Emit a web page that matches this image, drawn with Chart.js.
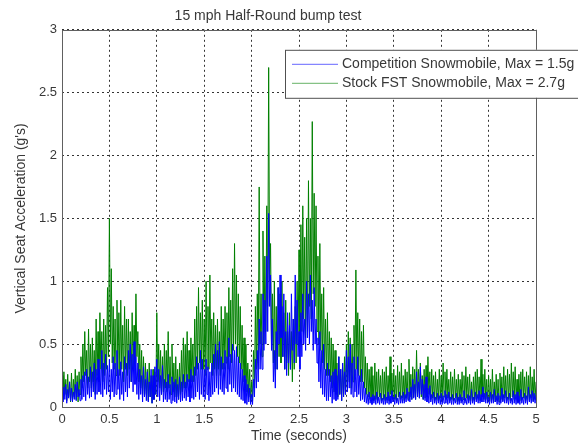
<!DOCTYPE html>
<html>
<head>
<meta charset="utf-8">
<script src="https://cdn.jsdelivr.net/npm/chart.js@4/dist/chart.umd.min.js"></script>
<style>
html,body{margin:0;padding:0;background:#fff;}
#wrap{width:578px;height:448px;position:relative;}
</style>
</head>
<body>
<div id="wrap"><canvas id="c" width="578" height="448"></canvas></div>
<script>
const chartTitle = "15 mph Half-Round bump test";
const xTitle = "Time (seconds)";
const yTitle = "Vertical Seat Acceleration (g's)";
const seriesNames = ["Competition Snowmobile, Max = 1.5g", "Stock FST Snowmobile, Max = 2.7g"];
const xTicks = [0, 0.5, 1, 1.5, 2, 2.5, 3, 3.5, 4, 4.5, 5];
const yTicks = [0, 0.5, 1, 1.5, 2, 2.5, 3];
const sampleStep = 0.01; // seconds between samples

const competition = [
0.12,0.04,0.16,0.06,0.18,0.03,0.14,0.07,0.2,0.05,
0.15,0.04,0.12,0.06,0.18,0.05,0.2,0.08,0.14,0.05,
0.22,0.06,0.25,0.08,0.28,0.05,0.3,0.1,0.24,0.07,
0.32,0.08,0.28,0.12,0.35,0.06,0.3,0.1,0.38,0.12,
0.3,0.1,0.45,0.08,0.35,0.14,0.42,0.1,0.33,0.12,
0.38,0.06,0.3,0.12,0.4,0.08,0.35,0.1,0.45,0.14,
0.3,0.06,0.36,0.1,0.28,0.05,0.4,0.12,0.35,0.08,
0.45,0.15,0.5,0.2,0.42,0.12,0.52,0.18,0.4,0.1,
0.35,0.06,0.3,0.1,0.25,0.04,0.32,0.08,0.22,0.05,
0.28,0.04,0.2,0.08,0.3,0.03,0.25,0.06,0.32,0.1,
0.38,0.08,0.3,0.05,0.25,0.1,0.33,0.04,0.22,0.06,
0.2,0.04,0.26,0.06,0.18,0.03,0.24,0.05,0.2,0.04,
0.22,0.03,0.18,0.06,0.24,0.04,0.2,0.05,0.26,0.07,
0.2,0.05,0.26,0.08,0.22,0.04,0.3,0.07,0.25,0.06,
0.32,0.08,0.4,0.12,0.35,0.06,0.45,0.1,0.38,0.08,
0.3,0.06,0.38,0.1,0.32,0.05,0.28,0.08,0.35,0.1,
0.42,0.12,0.5,0.15,0.45,0.1,0.52,0.14,0.4,0.12,
0.35,0.1,0.45,0.15,0.4,0.12,0.55,0.18,0.42,0.12,
0.5,0.15,0.45,0.12,0.48,0.1,0.4,0.08,0.35,0.06,
0.3,0.05,0.25,0.03,0.22,0.02,0.18,0.04,0.15,0.02,
0.1,0.02,0.22,0.08,0.38,0.15,0.45,0.2,0.7,0.3,
0.6,0.3,0.9,0.45,0.85,0.5,1.2,0.6,1.54,0.8,
1.05,0.45,0.7,0.2,0.45,0.15,0.6,0.3,0.95,0.5,
1.05,0.55,0.8,0.4,0.9,0.3,0.6,0.25,0.75,0.35,
0.65,0.3,0.9,0.45,0.7,0.35,1.05,0.5,0.85,0.4,
0.6,0.3,0.75,0.4,0.9,0.5,0.7,0.45,1.0,0.55,
0.9,0.5,1.05,0.6,0.85,0.45,0.95,0.5,0.7,0.35,
0.55,0.2,0.6,0.15,0.45,0.1,0.5,0.08,0.3,0.05,
0.35,0.05,0.3,0.08,0.25,0.03,0.28,0.06,0.3,0.05,
0.25,0.06,0.4,0.1,0.3,0.05,0.35,0.08,0.28,0.1,
0.45,0.12,0.4,0.15,0.5,0.1,0.35,0.08,0.4,0.12,
0.3,0.08,0.4,0.1,0.25,0.05,0.3,0.06,0.2,0.04,
0.15,0.03,0.1,0.02,0.12,0.03,0.08,0.02,0.1,0.03,
0.09,0.02,0.12,0.03,0.08,0.02,0.11,0.03,0.07,0.02,
0.1,0.02,0.08,0.03,0.12,0.02,0.09,0.03,0.13,0.04,
0.08,0.02,0.1,0.03,0.07,0.02,0.12,0.03,0.09,0.03,
0.12,0.03,0.1,0.04,0.15,0.05,0.12,0.04,0.16,0.06,
0.22,0.07,0.18,0.06,0.28,0.08,0.2,0.07,0.32,0.1,
0.22,0.06,0.18,0.05,0.24,0.04,0.15,0.03,0.17,0.04,
0.1,0.02,0.12,0.03,0.08,0.02,0.11,0.03,0.09,0.02,
0.11,0.02,0.09,0.03,0.13,0.03,0.1,0.02,0.12,0.03,
0.08,0.02,0.1,0.02,0.07,0.03,0.11,0.02,0.08,0.02,
0.1,0.03,0.08,0.02,0.13,0.03,0.07,0.02,0.1,0.03,
0.09,0.02,0.14,0.03,0.08,0.02,0.12,0.04,0.1,0.03,
0.13,0.03,0.1,0.04,0.16,0.04,0.11,0.03,0.12,0.03,
0.08,0.02,0.12,0.03,0.1,0.03,0.14,0.04,0.09,0.02,
0.11,0.02,0.09,0.03,0.15,0.04,0.1,0.03,0.13,0.03,
0.08,0.02,0.11,0.03,0.07,0.02,0.13,0.03,0.1,0.02,
0.12,0.03,0.09,0.02,0.14,0.03,0.08,0.02,0.11,0.03,
0.09,0.02,0.16,0.04,0.1,0.03,0.13,0.04,0.11,0.03,
0.1
];

const stockFST = [
0.25,0.06,0.28,0.1,0.22,0.05,0.26,0.08,0.2,0.04,
0.27,0.05,0.22,0.08,0.3,0.06,0.25,0.04,0.28,0.1,
0.4,0.15,0.5,0.2,0.6,0.25,0.45,0.15,0.62,0.2,
0.5,0.15,0.55,0.2,0.45,0.1,0.7,0.25,0.6,0.2,
0.75,0.3,0.6,0.2,0.7,0.25,0.65,0.3,0.95,0.4,
1.5,0.5,1.1,0.35,0.8,0.3,0.7,0.25,0.85,0.3,
0.75,0.25,0.85,0.3,0.65,0.2,0.8,0.3,0.7,0.25,
0.7,0.3,0.6,0.2,0.75,0.3,0.65,0.35,0.9,0.4,
0.6,0.2,0.5,0.15,0.45,0.1,0.4,0.08,0.35,0.1,
0.3,0.05,0.35,0.08,0.25,0.03,0.3,0.06,0.28,0.1,
0.75,0.2,0.5,0.15,0.45,0.1,0.4,0.12,0.5,0.15,
0.45,0.12,0.6,0.15,0.4,0.1,0.5,0.12,0.35,0.08,
0.4,0.08,0.3,0.06,0.35,0.1,0.45,0.12,0.55,0.15,
0.5,0.15,0.6,0.2,0.45,0.15,0.55,0.2,0.5,0.2,
0.7,0.25,0.8,0.3,0.95,0.35,0.75,0.3,0.85,0.3,
0.7,0.25,1.0,0.3,0.8,0.3,1.05,0.35,0.7,0.25,
0.75,0.3,0.65,0.25,0.7,0.3,0.6,0.25,0.8,0.3,
0.7,0.3,0.8,0.35,0.75,0.3,0.95,0.4,0.85,0.35,
1.1,0.45,1.3,0.5,1.05,0.4,0.9,0.35,0.8,0.3,
0.65,0.2,0.55,0.15,0.5,0.12,0.35,0.08,0.3,0.05,
0.2,0.05,0.45,0.15,0.8,0.3,0.9,0.35,1.75,0.5,
0.9,0.4,1.4,0.5,1.2,0.6,1.6,0.8,2.7,1.0,
1.3,0.5,0.9,0.35,1.0,0.3,0.8,0.3,0.95,0.4,
0.9,0.35,1.0,0.4,0.75,0.3,0.85,0.35,0.6,0.25,
0.75,0.3,0.6,0.2,0.7,0.3,0.8,0.35,1.0,0.5,
1.25,0.5,1.45,0.6,1.6,0.7,1.35,0.55,1.5,0.6,
1.8,0.8,1.5,0.7,2.27,0.9,1.7,0.8,1.6,0.6,
1.2,0.5,1.3,0.45,0.9,0.35,0.95,0.3,0.7,0.25,
0.75,0.25,0.6,0.2,0.55,0.15,0.5,0.12,0.45,0.1,
0.35,0.08,0.4,0.1,0.3,0.05,0.35,0.08,0.4,0.1,
0.5,0.15,0.6,0.2,0.55,0.15,0.5,0.2,0.65,0.25,
1.09,0.3,0.75,0.25,0.7,0.2,0.6,0.2,0.65,0.15,
0.4,0.1,0.35,0.08,0.3,0.06,0.32,0.08,0.25,0.05,
0.35,0.06,0.28,0.05,0.3,0.08,0.25,0.05,0.3,0.06,
0.28,0.05,0.32,0.07,0.25,0.05,0.4,0.1,0.27,0.06,
0.3,0.06,0.25,0.05,0.33,0.08,0.28,0.06,0.35,0.07,
0.25,0.05,0.3,0.07,0.28,0.06,0.38,0.08,0.26,0.06,
0.32,0.08,0.3,0.06,0.45,0.1,0.3,0.07,0.35,0.08,
0.25,0.06,0.3,0.07,0.33,0.08,0.4,0.1,0.28,0.06,
0.3,0.07,0.25,0.05,0.28,0.06,0.22,0.05,0.3,0.07,
0.25,0.05,0.35,0.08,0.28,0.06,0.3,0.07,0.22,0.05,
0.28,0.06,0.24,0.05,0.3,0.07,0.22,0.04,0.26,0.05,
0.22,0.05,0.28,0.06,0.25,0.05,0.32,0.07,0.24,0.05,
0.26,0.05,0.2,0.04,0.24,0.05,0.28,0.06,0.3,0.07,
0.24,0.05,0.38,0.08,0.26,0.06,0.3,0.06,0.22,0.04,
0.25,0.05,0.22,0.04,0.3,0.06,0.2,0.04,0.26,0.05,
0.22,0.04,0.27,0.06,0.24,0.05,0.32,0.07,0.25,0.05,
0.3,0.06,0.26,0.05,0.35,0.08,0.28,0.06,0.32,0.07,
0.22,0.04,0.26,0.05,0.28,0.06,0.3,0.07,0.24,0.05,
0.28,0.06,0.25,0.05,0.32,0.07,0.24,0.05,0.3,0.06,
0.2
];

const seriesColors = ["#0000ff", "#008000"];
const FONT = "'Liberation Sans', Arial, sans-serif";
const TEXT = "#383838";

function toPoints(arr){ return arr.map((v,i)=>({x: +(i*sampleStep).toFixed(2), y: v})); }

const boxPlugin = {
  id: 'boxAndLegend',
  afterDatasetsDraw(chart){
    const {ctx, chartArea:a} = chart;
    ctx.save();
    ctx.strokeStyle = '#606060';
    ctx.lineWidth = 1;
    ctx.setLineDash([]);
    ctx.strokeRect(Math.round(a.left)+0.5, Math.round(a.top)+0.5, Math.round(a.right-a.left), Math.round(a.bottom-a.top));
    // legend box
    const lx = a.left + 223, ly = a.top + 20, lw = 300, lh = 48;
    ctx.fillStyle = '#ffffff';
    ctx.fillRect(lx, ly, lw, lh);
    ctx.strokeStyle = '#505050';
    ctx.strokeRect(lx+0.5, ly+0.5, lw, lh);
    ctx.font = "14px " + FONT;
    ctx.textBaseline = 'middle';
    ctx.textAlign = 'left';
    const rows = [ly + 14, ly + 33];
    seriesNames.forEach((name, i)=>{
      ctx.strokeStyle = seriesColors[i];
      ctx.globalAlpha = 0.6;
      ctx.beginPath();
      ctx.moveTo(lx + 7, rows[i]+0.5);
      ctx.lineTo(lx + 53, rows[i]+0.5);
      ctx.stroke();
      ctx.globalAlpha = 1;
      ctx.fillStyle = TEXT;
      ctx.fillText(name, lx + 57, rows[i]);
    });
    ctx.restore();
  }
};

new Chart(document.getElementById('c'), {
  type: 'line',
  data: {
    datasets: [
      { label: seriesNames[0], data: toPoints(competition), borderColor: seriesColors[0], borderWidth: 1, pointRadius: 0, tension: 0, order: 0 },
      { label: seriesNames[1], data: toPoints(stockFST), borderColor: seriesColors[1], borderWidth: 1, pointRadius: 0, tension: 0, order: 1 }
    ]
  },
  options: {
    responsive: false,
    animation: false,
    layout: { padding: { right: 42, left: 0, top: 0, bottom: 0 } },
    plugins: {
      legend: { display: false },
      tooltip: { enabled: false },
      title: { display: true, text: chartTitle, color: TEXT, font: { family: FONT, size: 14, weight: 'normal' }, padding: { top: 8, bottom: 5 } }
    },
    scales: {
      x: {
        type: 'linear', min: 0, max: 5,
        afterBuildTicks(s){ s.ticks = xTicks.map(v=>({value:v})); },
        afterFit(s){ s.height = 41; },
        ticks: { color: TEXT, font: { family: FONT, size: 13 }, padding: 5, maxRotation: 0, autoSkip: false, callback: v => String(v) },
        grid: { color: 'rgba(0,0,0,0.8)', lineWidth: 1, drawTicks: false },
        border: { display: false, dash: [2, 3] },
        title: { display: true, text: xTitle, color: TEXT, font: { family: FONT, size: 14 }, padding: { top: 0, bottom: 3 } }
      },
      y: {
        type: 'linear', min: 0, max: 3,
        afterBuildTicks(s){ s.ticks = yTicks.map(v=>({value:v})); },
        afterFit(s){ s.width = 62; },
        ticks: { color: TEXT, font: { family: FONT, size: 13 }, padding: 5, autoSkip: false, callback: v => String(v) },
        grid: { color: 'rgba(0,0,0,0.8)', lineWidth: 1, drawTicks: false },
        border: { display: false, dash: [2, 3] },
        title: { display: true, text: yTitle, color: TEXT, font: { family: FONT, size: 14 }, padding: { top: 13, bottom: 0 } }
      }
    }
  },
  plugins: [boxPlugin]
});
</script>
</body>
</html>
